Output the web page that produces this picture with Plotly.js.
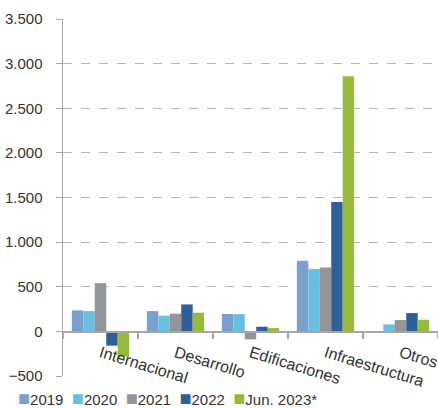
<!DOCTYPE html>
<html>
<head>
<meta charset="utf-8">
<script src="https://cdn.plot.ly/plotly-3.0.1.min.js"></script>
<style>html,body{margin:0;padding:0;background:#fff;}#chart{width:438px;height:408px;}</style>
</head>
<body>
<div id="chart"></div>
<script>
const categories = ["Internacional", "Desarrollo", "Edificaciones", "Infraestructura", "Otros"];
const seriesNames = ["2019", "2020", "2021", "2022", "Jun. 2023*"];
const v2019 = [235, 227, 194, 791, 0];
const v2020 = [227, 176, 193, 698, 78];
const v2021 = [540, 198, -90, 717, 127];
const v2022 = [-160, 302, 52, 1450, 205];
const vJun2023 = [-285, 209, 37, 2859, 130];
const yTicks = [-500, 0, 500, 1000, 1500, 2000, 2500, 3000, 3500];

const colors = ["#7BA0CD", "#6ABFE0", "#939598", "#2F5F97", "#97B93C"];
const allValues = [v2019, v2020, v2021, v2022, vJun2023];

const traces = allValues.map((vals, i) => ({
  type: "bar",
  name: seriesNames[i],
  x: categories,
  y: vals,
  marker: { color: colors[i], line: { width: 0 } },
  hoverinfo: "skip",
  showlegend: false
}));

const font = { family: "Liberation Sans, Arial, sans-serif", size: 15, color: "#333333" };
const catFont = { family: "Liberation Sans, Arial, sans-serif", size: 16, color: "#333333" };

// legend drawn as one text line: coloured square + series name
const legendText = seriesNames.map((n, i) =>
  '<span style="color:' + colors[i] + ';font-size:20px">\u25A0</span>' + n
).join('\u00A0\u00A0');

const layout = {
  width: 438,
  height: 408,
  margin: { l: 63, r: 0, t: 19, b: 32, autoexpand: false },
  paper_bgcolor: "#ffffff",
  plot_bgcolor: "#ffffff",
  separators: ",.",
  font: font,
  barmode: "group",
  bargap: 0.236,
  bargroupgap: 0,
  showlegend: false,
  annotations: [{
    xref: "paper", yref: "paper",
    x: -0.125, y: -0.063,
    xanchor: "left", yanchor: "middle",
    text: legendText,
    showarrow: false,
    font: font
  }],
  xaxis: {
    type: "category",
    anchor: "free",
    position: 0.125,
    showline: true,
    linecolor: "#a6a6a6",
    linewidth: 1.5,
    ticks: "outside",
    tickson: "boundaries",
    ticklen: 6,
    tickcolor: "#a6a6a6",
    tickwidth: 1.5,
    tickangle: 17,
    ticklabelstandoff: 5,
    tickfont: catFont,
    showgrid: false,
    zeroline: false,
    automargin: false
  },
  yaxis: {
    range: [-500, 3500],
    tickvals: yTicks,
    tickformat: ",d",
    showline: true,
    linecolor: "#a6a6a6",
    linewidth: 1.5,
    ticks: "outside",
    ticklen: 6,
    tickcolor: "#a6a6a6",
    ticklabelstandoff: 10,
    tickfont: font,
    showgrid: true,
    gridcolor: "#b5b5b5",
    griddash: "dash",
    gridwidth: 1,
    zeroline: false,
    automargin: false
  }
};

Plotly.newPlot("chart", traces, layout, { staticPlot: true, displayModeBar: false });
</script>
</body>
</html>
